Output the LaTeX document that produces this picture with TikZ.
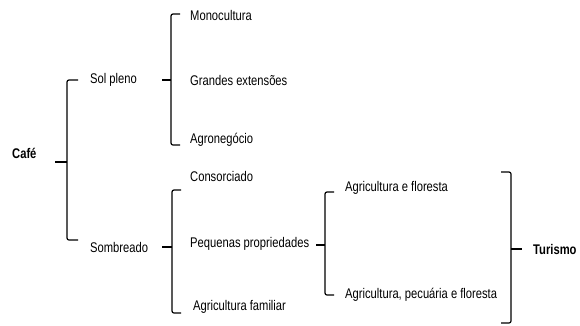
\documentclass[tikz,border=0pt]{standalone}
\usepackage{fontspec}
\setmainfont{Liberation Sans}[FakeStretch=0.8]
\begin{document}
\begin{tikzpicture}[x=1pt,y=-1pt,
  lbl/.style={anchor=west,inner sep=0pt,font=\fontsize{14}{16}\selectfont},
  blbl/.style={lbl,font=\fontsize{14}{16}\selectfont\bfseries},
  brk/.style={line width=1.2pt,rounded corners=2pt},
  tip/.style={line width=1.2pt}]
\useasboundingbox (0,0) rectangle (580,325);
% texts
\node[blbl] (cafe) at (12,153) {Café};
\node[lbl] (sol) at (90,80) {Sol pleno};
\node[lbl] (somb) at (90,247) {Sombreado};
\node[lbl] (mono) at (190,15) {Monocultura};
\node[lbl] (grandes) at (190,80) {Grandes extensões};
\node[lbl] (agro) at (190,140) {Agronegócio};
\node[lbl] (cons) at (190,176) {Consorciado};
\node[lbl] (peq) at (190,244) {Pequenas propriedades};
\node[lbl] (fam) at (193,307) {Agricultura familiar};
\node[lbl] (agf) at (345,188) {Agricultura e floresta};
\node[lbl] (apf) at (345,295) {Agricultura, pecuária e floresta};
\node[blbl] (tur) at (533,249) {Turismo};
% brackets
\draw[brk] (78,80) -- (67,80) -- (67,240) -- (78,240);
\draw[tip] (55,162) -- (67,162);
\draw[brk] (180,14) -- (171,14) -- (171,145) -- (180,145);
\draw[tip] (162,80) -- (171,80);
\draw[brk] (181,190) -- (172,190) -- (172,313) -- (181,313);
\draw[tip] (162,247) -- (172,247);
\draw[brk] (334,192) -- (325,192) -- (325,295) -- (334,295);
\draw[tip] (316,245) -- (325,245);
\draw[brk] (501,172) -- (511,172) -- (511,323) -- (501,323);
\draw[tip] (511,249) -- (522,249);
\end{tikzpicture}
\end{document}
